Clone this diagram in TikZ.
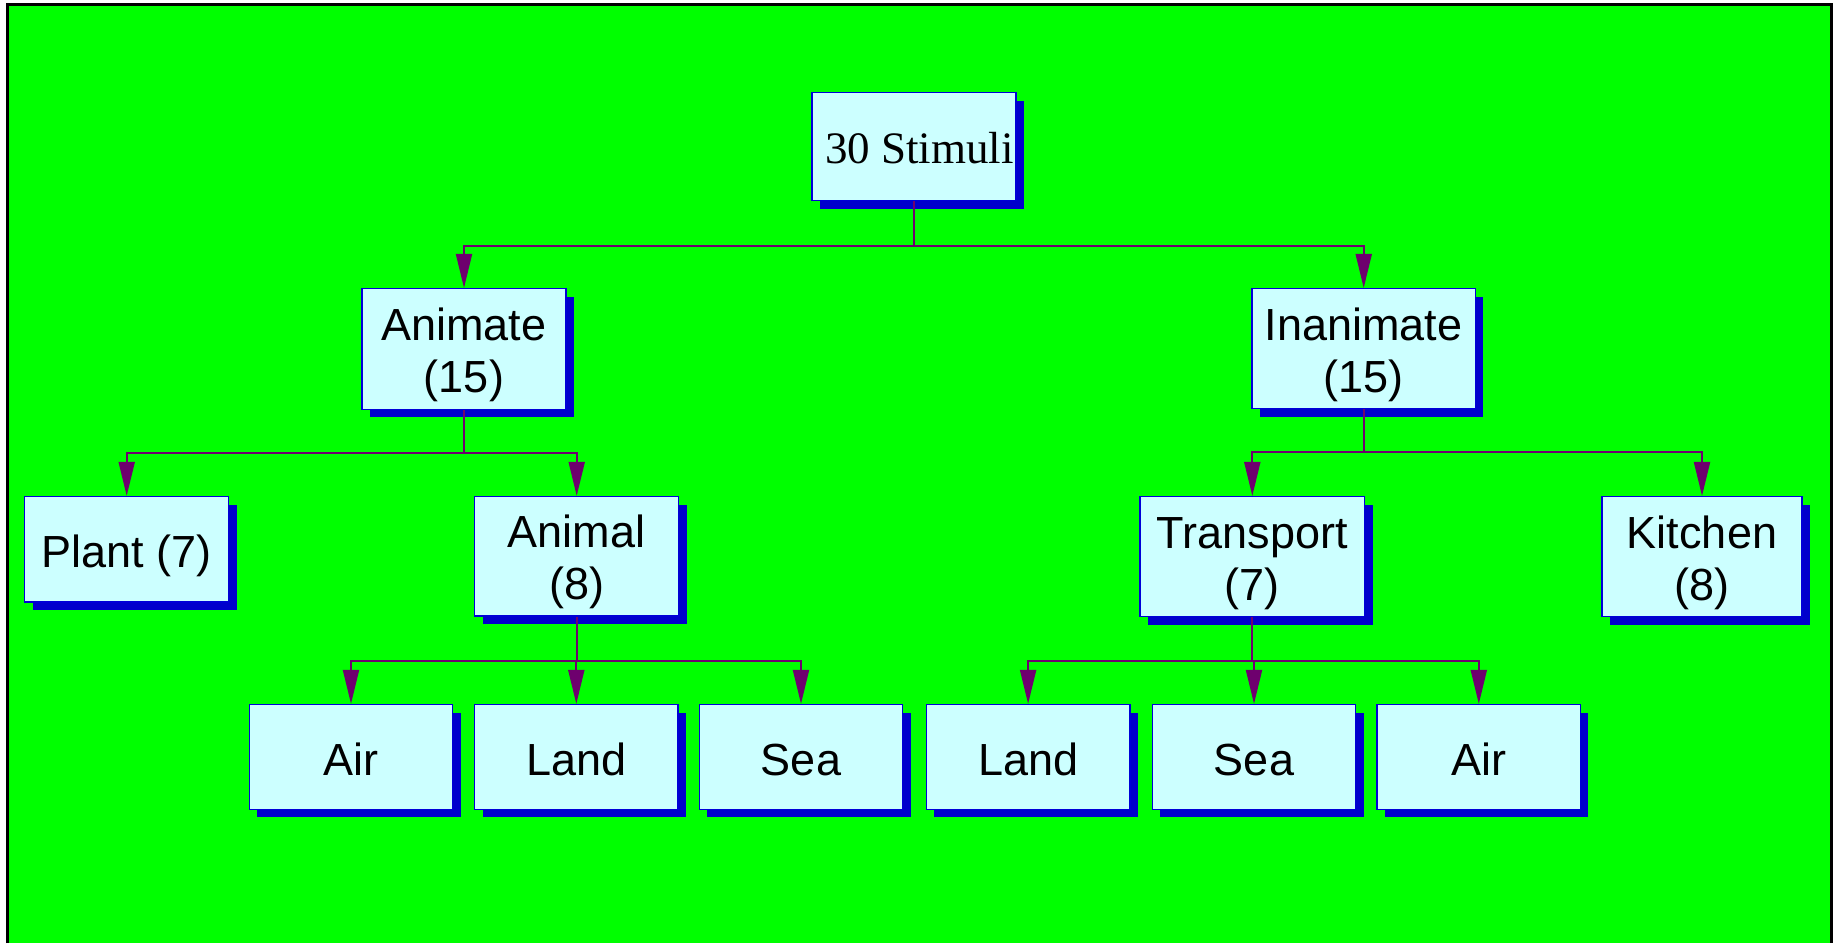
\documentclass[tikz,border=0pt]{standalone}
\usepackage{fontspec}
\setmainfont{Liberation Sans}
\newfontfamily\stimfont{Liberation Serif}
\usetikzlibrary{arrows.meta,shadows}
\definecolor{bggreen}{RGB}{0,255,0}
\definecolor{boxfill}{RGB}{204,255,255}
\definecolor{boxline}{RGB}{0,0,215}
\definecolor{shadowblue}{RGB}{0,0,204}
\definecolor{connpurple}{RGB}{110,0,110}
\newcommand{\twoln}[2]{\begin{tabular}[t]{@{}c@{}}#1\\#2\end{tabular}}
\begin{document}
\begin{tikzpicture}[x=1pt,y=-1pt,
  box/.style={draw=boxline, line width=1.5pt, fill=boxfill, inner sep=0pt,
    font=\fontsize{45}{52}\selectfont,
    general shadow={fill=shadowblue, shadow xshift=8pt, shadow yshift=-8pt}},
  oneline/.style={box, text height=37pt, text depth=0pt},
  twoline/.style={box, text height=35pt, text depth=52pt},
  link/.style={draw=connpurple, line width=2pt},
  conn/.style={link, -{Triangle[length=34pt,width=16pt]}}]
\useasboundingbox (0,0) rectangle (1835,943);
\fill[white] (0,0) rectangle (1835,943);
\fill[bggreen] (7,4) rectangle (1831,943);
\draw[black, line width=3pt] (7,943) -- (7,4) -- (1831,4) -- (1831,943);

% nodes
\node[box, text height=33.2pt, text depth=0pt, minimum width=204.3pt, minimum height=108pt] (stim) at (913.9,146.7) {\stimfont\hspace*{11pt}30 Stimuli};
\node[twoline, minimum width=204pt, minimum height=120.6pt] (animate) at (464,349) {\twoln{Animate}{(15)}};
\node[twoline, minimum width=223.3pt, minimum height=120pt] (inanimate) at (1363.7,348.7) {\twoln{Inanimate}{(15)}};
\node[oneline, minimum width=204pt, minimum height=105.3pt] (plant) at (126.7,549.3) {Plant (7)};
\node[twoline, minimum width=204pt, minimum height=119.3pt] (animal) at (576.7,556.3) {\twoln{Animal}{(8)}};
\node[twoline, minimum width=224.7pt, minimum height=120pt] (transport) at (1252.3,556.7) {\twoln{Transport}{(7)}};
\node[twoline, minimum width=200pt, minimum height=120pt] (kitchen) at (1702,556.7) {\twoln{Kitchen}{(8)}};
\node[oneline, minimum width=203.3pt, minimum height=104.7pt] (air1) at (351,757) {Air};
\node[oneline, minimum width=203.3pt, minimum height=104.7pt] (land1) at (576.3,757) {Land};
\node[oneline, minimum width=203.3pt, minimum height=104.7pt] (sea1) at (801,757) {Sea};
\node[oneline, minimum width=203.3pt, minimum height=104.7pt] (land2) at (1028.1,757) {Land};
\node[oneline, minimum width=203.3pt, minimum height=104.7pt] (sea2) at (1254,757) {Sea};
\node[oneline, minimum width=203.3pt, minimum height=104.7pt] (air2) at (1478.8,757) {Air};

% connectors
\draw[link] (stim.south) -- ++(0,44.3) coordinate (j0);
\draw[conn] (j0) -| (animate.north);
\draw[conn] (j0) -| (inanimate.north);

\draw[link] (animate.south) -- ++(0,42.5) coordinate (j1);
\draw[conn] (j1) -| (plant.north);
\draw[conn] (j1) -| (animal.north);

\draw[link] (inanimate.south) -- ++(0,43) coordinate (j2);
\draw[conn] (j2) -| (transport.north);
\draw[conn] (j2) -| (kitchen.north);

\draw[link] (animal.south) -- ++(0,44.5) coordinate (j3);
\draw[conn] (j3) -| (air1.north);
\draw[conn] (j3) -| (land1.north);
\draw[conn] (j3) -| (sea1.north);

\draw[link] (transport.south) -- ++(0,44) coordinate (j4);
\draw[conn] (j4) -| (land2.north);
\draw[conn] (j4) -| (sea2.north);
\draw[conn] (j4) -| (air2.north);
\end{tikzpicture}
\end{document}
